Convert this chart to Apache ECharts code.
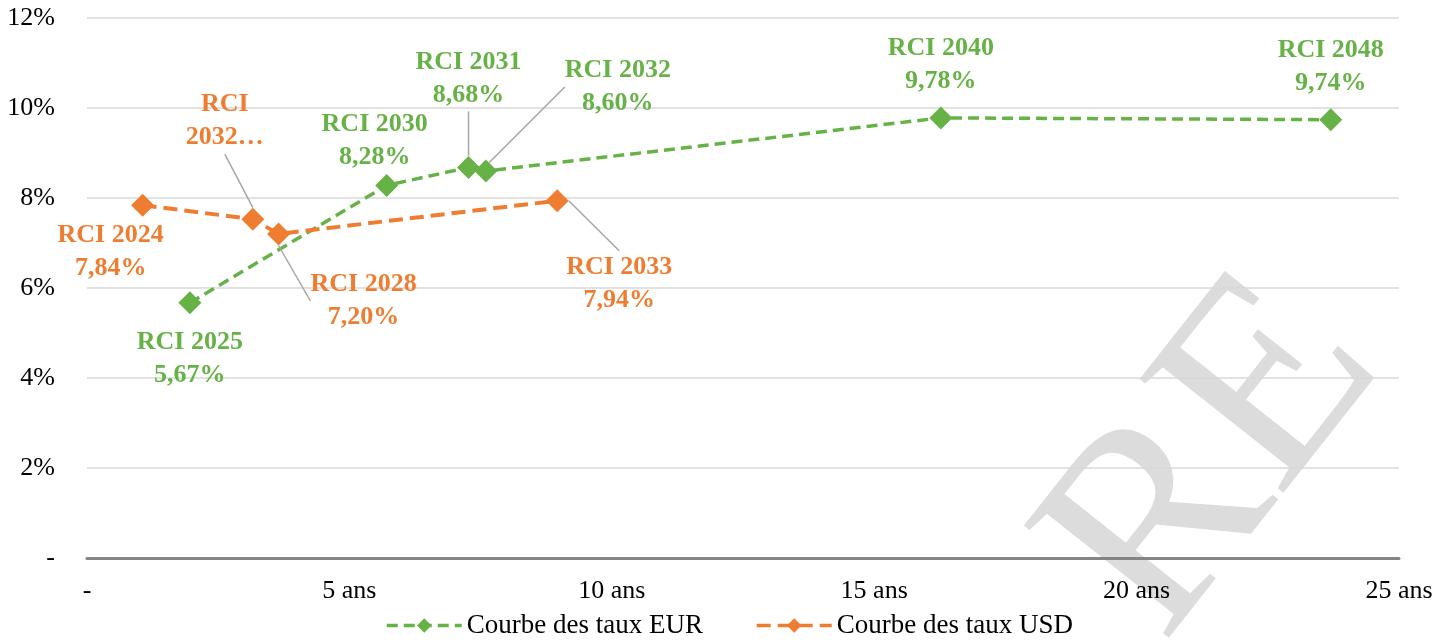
<!DOCTYPE html>
<html><head><meta charset="utf-8">
<script src="https://cdn.jsdelivr.net/npm/echarts@6/dist/echarts.min.js"></script>
<style>html,body{margin:0;padding:0;background:#fff}#c{width:1456px;height:641px}</style>
</head><body><div id="c"></div>
<script>
// ---- data ----
const xTicks = [0, 5, 10, 15, 20, 25];
const yTicks = [0, 2, 4, 6, 8, 10, 12];
const eurNames = ['RCI 2025', 'RCI 2030', 'RCI 2031', 'RCI 2032', 'RCI 2040', 'RCI 2048'];
const eurX = [1.96, 5.71, 7.27, 7.60, 16.27, 23.70];
const eurY = [5.67, 8.28, 8.68, 8.60, 9.78, 9.74];
const usdNames = ['RCI 2024', 'RCI 2032…', 'RCI 2028', 'RCI 2033'];
const usdX = [1.06, 3.16, 3.65, 8.96];
const usdY = [7.84, 7.53, 7.20, 7.94];
const seriesNames = ['Courbe des taux EUR', 'Courbe des taux USD'];

// ---- label placement (style, not data) ----
const eurOff = [[0, 56], [-12, -45], [0, -89], [132, -84], [0, -53], [0, -53]];
const eurLeader = [false, false, true, true, false, false];
const usdOff = [[-32, 47], [-28, -98], [85, 67], [62, 83]];
const usdLeader = [false, true, true, true];
const usdShort = [false, true, false, false];

const FONT = '"Liberation Serif", "Times New Roman", serif';
const GREEN = '#67B246';
const ORANGE = '#EE7D31';

function fmt(v) { return v.toFixed(2).replace('.', ',') + '%'; }

function build(xs, ys, names, leaders, shorts) {
  return xs.map((x, i) => ({
    value: [x, ys[i]],
    name: names[i],
    short: shorts ? shorts[i] : false,
    labelLine: { show: leaders[i] }
  }));
}

const chart = echarts.init(document.getElementById('c'), null, { renderer: 'canvas' });

function seriesOf(name, color, dash, width, data, offs) {
  return {
    name: name,
    type: 'line',
    data: data,
    symbol: 'diamond',
    symbolSize: 23,
    itemStyle: { color: color },
    lineStyle: { color: color, width: width, type: dash },
    label: {
      show: true,
      position: 'inside',
      color: color,
      fontFamily: FONT,
      fontWeight: 'bold',
      fontSize: 26,
      lineHeight: 33,
      align: 'center',
      formatter: function (p) {
        const d = data[p.dataIndex];
        if (d.short) return 'RCI\n2032…';
        return d.name + '\n' + fmt(d.value[1]);
      }
    },
    labelLine: { show: false, lineStyle: { color: '#a6a6a6', width: 1.5 } },
    labelLayout: function (p) {
      const o = offs[p.dataIndex];
      return { dx: o[0], dy: o[1] };
    },
    z: 3
  };
}

const option = {
  backgroundColor: '#ffffff',
  animation: false,
  grid: { left: 87, right: 57, top: 18, bottom: 83, containLabel: false },
  xAxis: {
    type: 'value', min: 0, max: 25, interval: 5,
    axisLine: { show: true, onZero: false, lineStyle: { color: '#858585', width: 3 } },
    axisTick: { show: false },
    splitLine: { show: false },
    axisLabel: {
      margin: 20, color: '#000', fontFamily: FONT, fontSize: 26,
      showMaxLabel: true, showMinLabel: true,
      formatter: v => (v === 0 ? '-' : v + ' ans')
    }
  },
  yAxis: {
    type: 'value', min: 0, max: 12, interval: 2,
    axisLine: { show: false },
    axisTick: { show: false },
    splitLine: { show: true, lineStyle: { color: '#d9d9d9', width: 1.5 } },
    axisLabel: {
      margin: 32, color: '#000', fontFamily: FONT, fontSize: 26,
      formatter: v => (v === 0 ? '-' : v + '%')
    }
  },
  legend: {
    left: 380, top: 607,
    itemWidth: 75, itemHeight: 18, itemGap: 52,
    lineStyle: { width: 3.5 },
    textStyle: { fontSize: 27, fontFamily: FONT, color: '#000' },
    data: seriesNames
  },
  graphic: [{
    type: 'text', x: 1105, y: 600, rotation: 51.7 * Math.PI / 180, z: -100, silent: true,
    style: { text: 'RE', fill: '#dcdcdc', font: '280px "Liberation Serif"', textAlign: 'left', textVerticalAlign: 'middle' }
  }],
  series: [
    seriesOf(seriesNames[0], GREEN, [11, 6], 3.5, build(eurX, eurY, eurNames, eurLeader, null), eurOff),
    seriesOf(seriesNames[1], ORANGE, [14, 7], 4, build(usdX, usdY, usdNames, usdLeader, usdShort), usdOff)
  ]
};
chart.setOption(option);
</script>
</body></html>
